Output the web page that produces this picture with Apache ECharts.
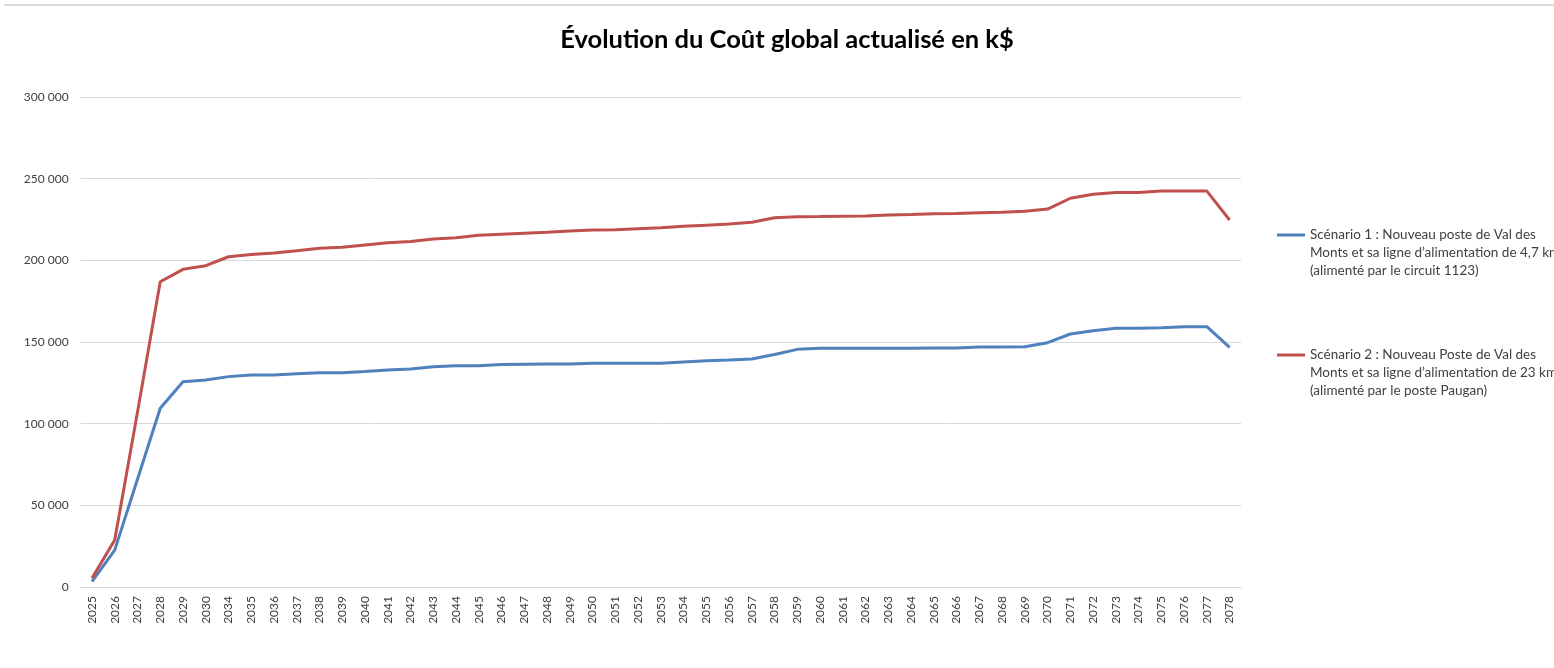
<!DOCTYPE html>
<html>
<head>
<meta charset="utf-8">
<script src="https://cdn.jsdelivr.net/npm/echarts@6/dist/echarts.min.js"></script>
<style>html,body{margin:0;padding:0;background:#fff}#c{width:1554px;height:668px}</style>
</head>
<body>
<div id="c"></div>
<script>
const years = ['2025','2026','2027','2028','2029','2030','2034','2035','2036','2037','2038','2039','2040','2041','2042','2043','2044','2045','2046','2047','2048','2049','2050','2051','2052','2053','2054','2055','2056','2057','2058','2059','2060','2061','2062','2063','2064','2065','2066','2067','2068','2069','2070','2071','2072','2073','2074','2075','2076','2077','2078'];
const scenario1 = [3300,22600,66000,109400,125700,126700,128800,129800,129800,130500,131200,131200,132000,132900,133400,134900,135500,135500,136200,136400,136500,136500,137000,137000,137000,137000,137800,138500,139000,139600,142400,145500,146100,146100,146100,146200,146200,146300,146300,146900,147000,147100,149600,154900,156900,158400,158400,158800,159400,159400,146700];
const scenario2 = [5300,28800,107000,186900,194500,196700,202200,203500,204500,205900,207400,208000,209400,210800,211600,213000,213800,215300,216000,216600,217200,217900,218500,218700,219400,220000,220800,221500,222200,223300,226100,226700,226800,227000,227200,227700,228000,228500,228600,229200,229400,230100,231400,238000,240400,241600,241600,242400,242400,242400,224700];
const name1 = 'Scénario 1 : Nouveau poste de Val des\nMonts et sa ligne d’alimentation de 4,7 km\n(alimenté par le circuit 1123)';
const name2 = 'Scénario 2 : Nouveau Poste de Val des\nMonts et sa ligne d’alimentation de 23 km\n(alimenté par le poste Paugan)';
const title = 'Évolution du Coût global actualisé en k$';

const chart = echarts.init(document.getElementById('c'));
chart.setOption({
  animation: false,
  textStyle: {fontFamily: 'Lato'},
  title: {text: title, left: 782, textAlign: 'center', top: 22,
    textStyle: {fontFamily: 'Lato', fontWeight: 'bold', fontSize: 25.5, color: '#000'}},
  graphic: [{type: 'line', shape: {x1: 4, y1: 5, x2: 1554, y2: 5}, style: {stroke: '#d9d9d9', lineWidth: 2}}],
  legend: {
    orient: 'vertical', left: 1277, top: 190, itemGap: 30, padding: 0,
    itemWidth: 28, itemHeight: 3, icon: 'rect',
    formatter: n => '\n\n' + n,
    textStyle: {fontFamily: 'Lato', fontSize: 13.5, color: '#404040', lineHeight: 18},
    data: [name1, name2]
  },
  grid: {left: 80.6, right: 313, top: 97, bottom: 81},
  xAxis: {
    type: 'category', data: years, boundaryGap: true,
    axisLine: {lineStyle: {color: '#d9d9d9', width: 1}},
    axisTick: {show: false},
    axisLabel: {interval: 0, rotate: 90, fontSize: 12, color: '#404040', margin: 9, fontFamily: 'Lato'}
  },
  yAxis: {
    type: 'value', min: 0, max: 300000, interval: 50000,
    axisLine: {show: false}, axisTick: {show: false},
    splitLine: {lineStyle: {color: '#d9d9d9', width: 1}},
    axisLabel: {fontSize: 12, color: '#404040', margin: 12, fontFamily: 'Lato',
      formatter: v => String(v).replace(/\B(?=(\d{3})+(?!\d))/g, ' ')}
  },
  series: [
    {name: name1, type: 'line', data: scenario1, showSymbol: false, symbol: 'none',
      lineStyle: {color: '#4f81bd', width: 3}, itemStyle: {color: '#4f81bd'}},
    {name: name2, type: 'line', data: scenario2, showSymbol: false, symbol: 'none',
      lineStyle: {color: '#c0504d', width: 3}, itemStyle: {color: '#c0504d'}}
  ]
});
</script>
</body>
</html>
